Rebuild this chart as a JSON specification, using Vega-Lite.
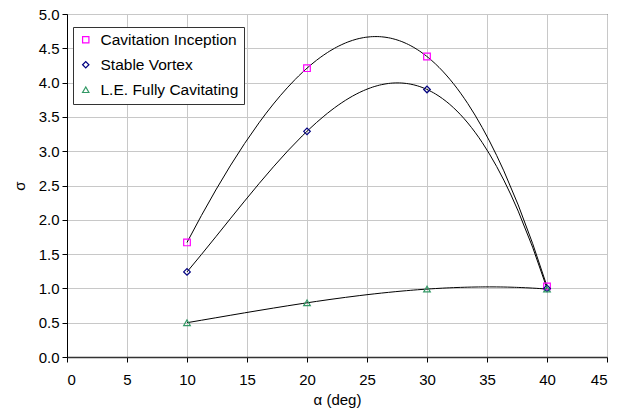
{
  "$schema": "https://vega.github.io/schema/vega-lite/v6.json",
  "autosize": {"type": "none"},
  "width": 540,
  "height": 343,
  "padding": {"left": 67, "top": 14, "right": 19, "bottom": 52},
  "background": "white",
  "config": {
    "font": "Liberation Sans",
    "view": {"stroke": "#000000", "strokeWidth": 1},
    "axis": {
      "labelFont": "Liberation Sans",
      "labelFontSize": 15,
      "labelColor": "#000000",
      "labelOverlap": false,
      "titleFont": "Liberation Sans",
      "titleFontSize": 15,
      "titleFontWeight": "normal",
      "titleColor": "#000000",
      "domainColor": "#000000",
      "tickColor": "#000000",
      "tickSize": 5,
      "gridColor": "#c8c8c8",
      "gridWidth": 1
    }
  },
  "data": {
    "values": [
      {"series": "Cavitation Inception", "alpha": 10, "sigma": 1.67},
      {"series": "Cavitation Inception", "alpha": 20, "sigma": 4.21},
      {"series": "Cavitation Inception", "alpha": 30, "sigma": 4.38},
      {"series": "Cavitation Inception", "alpha": 40, "sigma": 1.03},
      {"series": "Stable Vortex", "alpha": 10, "sigma": 1.24},
      {"series": "Stable Vortex", "alpha": 20, "sigma": 3.29},
      {"series": "Stable Vortex", "alpha": 30, "sigma": 3.9},
      {"series": "Stable Vortex", "alpha": 40, "sigma": 1.0},
      {"series": "L.E. Fully Cavitating", "alpha": 10, "sigma": 0.5},
      {"series": "L.E. Fully Cavitating", "alpha": 20, "sigma": 0.79},
      {"series": "L.E. Fully Cavitating", "alpha": 30, "sigma": 0.99},
      {"series": "L.E. Fully Cavitating", "alpha": 40, "sigma": 0.99}
    ]
  },
  "encoding": {
    "x": {
      "field": "alpha", "type": "quantitative",
      "scale": {"domain": [0, 45], "nice": false, "zero": false},
      "axis": {"values": [0, 5, 10, 15, 20, 25, 30, 35, 40, 45], "title": "α (deg)", "labelPadding": 10, "titlePadding": 5, "grid": true, "domainWidth": 1.5, "domainColor": "#333333"}
    },
    "y": {
      "field": "sigma", "type": "quantitative",
      "scale": {"domain": [0, 5], "nice": false},
      "axis": {"values": [0, 0.5, 1, 1.5, 2, 2.5, 3, 3.5, 4, 4.5, 5], "format": ".1f", "title": "σ", "labelPadding": 3, "titlePadding": 11, "grid": true, "labelOverlap": false}
    }
  },
  "layer": [
    {
      "transform": [
        {"regression": "sigma", "on": "alpha", "method": "poly", "order": 3, "groupby": ["series"]}
      ],
      "mark": {"type": "line", "color": "#000000", "strokeWidth": 1},
      "encoding": {
        "detail": {"field": "series"}
      }
    },
    {
      "mark": {"type": "point", "filled": false, "size": 44, "strokeWidth": 1.2, "opacity": 1},
      "encoding": {
        "color": {
          "field": "series", "type": "nominal",
          "scale": {"domain": ["Cavitation Inception", "Stable Vortex", "L.E. Fully Cavitating"], "range": ["#ff00ff", "#000080", "#339966"]},
          "legend": {
            "title": null, "orient": "none", "legendX": 6, "legendY": 13,
            "labelFontSize": 15.5, "labelFont": "Liberation Sans", "labelColor": "#000000",
            "strokeColor": "#333333", "fillColor": "#ffffff", "padding": 5, "rowPadding": 8,
            "symbolSize": 40, "symbolStrokeWidth": 1.2, "labelOffset": 7
          }
        },
        "shape": {
          "field": "series", "type": "nominal",
          "scale": {"domain": ["Cavitation Inception", "Stable Vortex", "L.E. Fully Cavitating"], "range": ["square", "diamond", "triangle-up"]}
        }
      }
    }
  ]
}
